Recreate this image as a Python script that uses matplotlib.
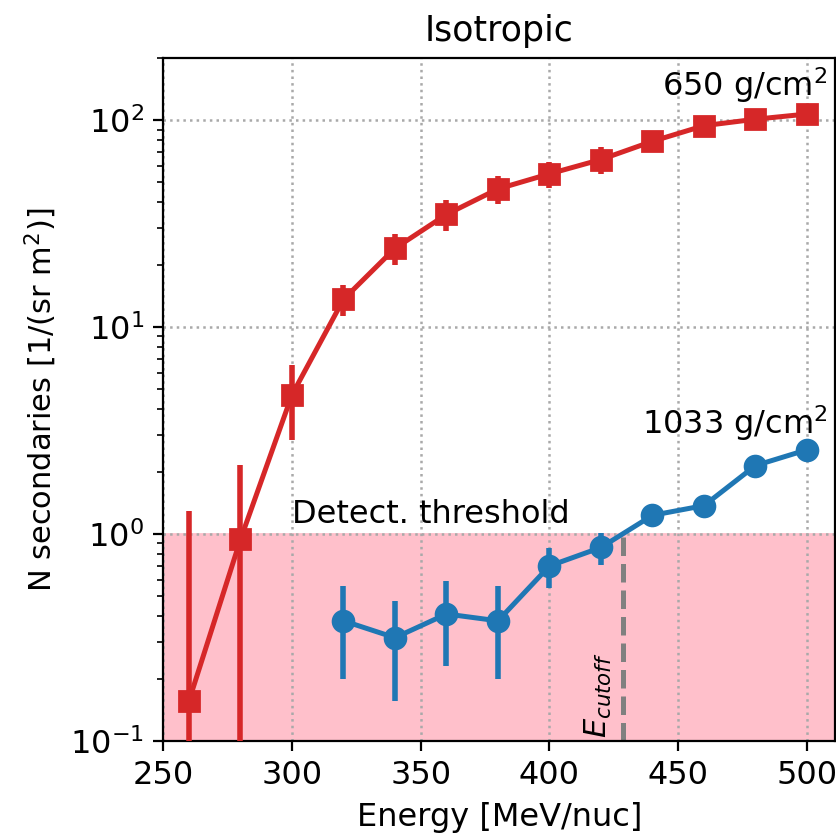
import numpy as np
import matplotlib
matplotlib.use("Agg")
import matplotlib.pyplot as plt

# Energies [MeV/nuc]
energy_650 = [260, 280, 300, 320, 340, 360, 380, 400, 420, 440, 460, 480, 500]
n_650 = [0.156, 0.94, 4.7, 13.6, 24, 35, 46.5, 55, 64.5, 79, 94, 101, 107]
err_650 = [1.13, 1.22, 1.85, 2.3, 4.0, 6.0, 7.0, 8.0, 9.5, 8.0, 6.0, 5.0, 4.5]

energy_1033 = [320, 340, 360, 380, 400, 420, 440, 460, 480, 500]
n_1033 = [0.38, 0.315, 0.41, 0.38, 0.70, 0.86, 1.23, 1.37, 2.14, 2.55]
err_1033 = [0.18, 0.16, 0.18, 0.18, 0.15, 0.15, 0.0, 0.0, 0.0, 0.0]

threshold = 1.0
e_cutoff = 428.5

fig, ax = plt.subplots(figsize=(4.185, 4.19), dpi=200)
fig.subplots_adjust(left=0.195, right=0.998, bottom=0.116, top=0.931)

ax.axhspan(0.1, threshold, color="pink", zorder=0)

ax.errorbar(energy_650, n_650, yerr=err_650, marker="s", color="tab:red",
            markersize=7.5, lw=1.8, elinewidth=2.0, zorder=3)
ax.errorbar(energy_1033, n_1033, yerr=err_1033, marker="o", color="tab:blue",
            markersize=7.5, lw=1.8, elinewidth=2.0, zorder=3)

ax.vlines(e_cutoff, 0.1, threshold, colors="gray", linestyles="--", lw=1.8, zorder=2)
ax.text(e_cutoff - 3.5, 0.103, r"$E_{cutoff}$", rotation=90, ha="right", va="bottom", fontsize=11)

ax.text(300, 1.05, "Detect. threshold", fontsize=11.5, va="bottom")
ax.text(508, 118, r"650 g/cm$^2$", fontsize=11.5, ha="right", va="bottom")
ax.text(508, 2.75, r"1033 g/cm$^2$", fontsize=11.5, ha="right", va="bottom")

ax.set_yscale("log")
ax.set_ylim(0.1, 200)
ax.set_xlim(250, 511)
ax.set_xticks([250, 300, 350, 400, 450, 500])
ax.grid(True, ls=":", color="darkgray", lw=0.9)

ax.set_title("Isotropic", fontsize=12.5)
ax.set_xlabel("Energy [MeV/nuc]", fontsize=11.5)
ax.set_ylabel(r"N secondaries [1/(sr m$^2$)]", fontsize=11)
ax.tick_params(labelsize=11.5)

plt.savefig("out.png")
plt.close()
